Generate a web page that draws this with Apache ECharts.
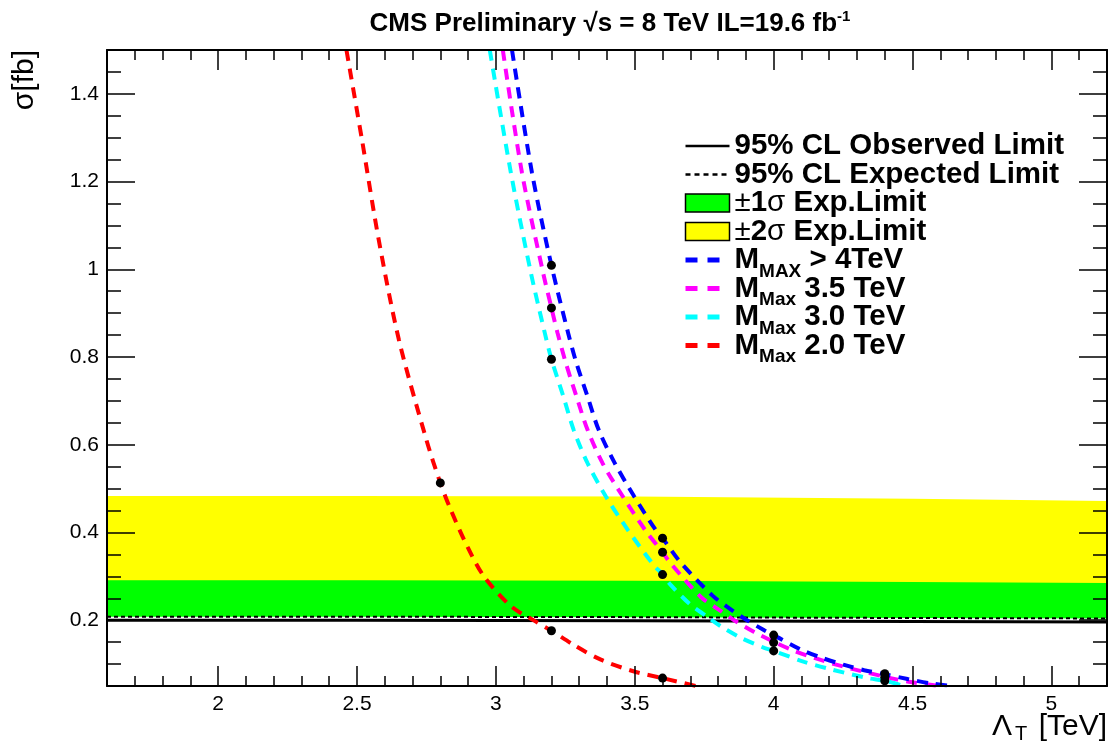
<!DOCTYPE html>
<html><head><meta charset="utf-8">
<script src="https://cdn.jsdelivr.net/npm/echarts@6/dist/echarts.min.js"></script>
<style>html,body{margin:0;padding:0;background:#fff}#c{width:1111px;height:750px}</style>
</head><body><div id="c"></div>
<script>
// ---- tick values ----
const xMajorTicks = [2, 2.5, 3, 3.5, 4, 4.5, 5];
const xMinorTicks = [1.7,1.8,1.9,2.1,2.2,2.3,2.4,2.6,2.7,2.8,2.9,3.1,3.2,3.3,3.4,3.6,3.7,3.8,3.9,4.1,4.2,4.3,4.4,4.6,4.7,4.8,4.9,5.1];
const yMajorTicks = [0.2, 0.4, 0.6, 0.8, 1, 1.2, 1.4];
const yMinorTicks = [0.1,0.15,0.25,0.3,0.35,0.45,0.5,0.55,0.65,0.7,0.75,0.85,0.9,0.95,1.05,1.1,1.15,1.25,1.3,1.35,1.45];

// ---- limit bands ----
const bandX         = [1.6, 2.5, 3.5, 4.5, 5.2];
const observedLimit = [0.200, 0.200, 0.199, 0.197, 0.196];
const expectedLimit = [0.208, 0.208, 0.207, 0.205, 0.204];
const plusOneSigma  = [0.291, 0.291, 0.290, 0.287, 0.285];
const plusTwoSigma  = [0.483, 0.483, 0.482, 0.477, 0.472];

// ---- signal curves [Lambda_T, sigma] ----
const curveMaxGt4 = [[3.058,1.5],[3.13,1.22],[3.2,1.009],[3.26,0.855],[3.29,0.786],[3.33,0.71],[3.37,0.634],[3.428,0.558],[3.498,0.482],[3.576,0.405],[3.6,0.387],[3.666,0.331],[3.78,0.256],[3.834,0.23],[3.894,0.204],[3.966,0.177],[4.0,0.166],[4.098,0.133],[4.17,0.115],[4.254,0.098],[4.326,0.086],[4.4,0.077],[4.482,0.066],[4.566,0.056],[4.645,0.05]];
const curveMax35  = [[3.025,1.5],[3.094,1.22],[3.17,0.992],[3.2,0.912],[3.222,0.855],[3.252,0.786],[3.29,0.71],[3.33,0.634],[3.384,0.558],[3.457,0.482],[3.538,0.405],[3.6,0.355],[3.63,0.329],[3.738,0.253],[3.798,0.226],[3.858,0.2],[3.93,0.173],[4.0,0.151],[4.074,0.13],[4.146,0.114],[4.218,0.1],[4.29,0.088],[4.4,0.071],[4.494,0.059],[4.602,0.05]];
const curveMax30  = [[2.978,1.5],[3.054,1.22],[3.126,0.992],[3.176,0.855],[3.2,0.795],[3.243,0.71],[3.28,0.634],[3.33,0.558],[3.396,0.482],[3.476,0.405],[3.564,0.329],[3.6,0.304],[3.63,0.28],[3.696,0.238],[3.756,0.21],[3.81,0.186],[3.882,0.16],[3.966,0.137],[4.0,0.13],[4.11,0.105],[4.194,0.09],[4.338,0.068],[4.4,0.062],[4.47,0.05]];
const curveMax20  = [[2.462,1.5],[2.518,1.295],[2.578,1.068],[2.651,0.839],[2.75,0.611],[2.8,0.513],[2.838,0.451],[2.898,0.367],[2.958,0.299],[3.054,0.232],[3.138,0.199],[3.2,0.176],[3.282,0.143],[3.378,0.11],[3.498,0.083],[3.6,0.068],[3.72,0.05]];

// ---- computed signal points ----
const pointLambda = [2.8, 3.2, 3.6, 3.2, 3.2, 3.2, 3.6, 3.6, 3.6, 4.0, 4.0, 4.0, 4.4, 4.4, 4.4];
const pointSigma  = [0.513, 0.176, 0.068, 1.009, 0.912, 0.795, 0.387, 0.355, 0.304, 0.166, 0.149, 0.130, 0.078, 0.070, 0.062];

const F = '"Liberation Sans", Arial, Helvetica, sans-serif';
const zip = (xs, ys) => xs.map((x, i) => [x, ys[i]]);

const legendText = {
  'obs': '{b|95% CL Observed Limit}{z|.}',
  'exp': '{b|95% CL Expected Limit}{z|.}',
  'one': '{g|±}{b|1}{g|σ}{b| Exp.Limit}{z|.}',
  'two': '{g|±}{b|2}{g|σ}{b| Exp.Limit}{z|.}',
  'm4':  '{b|M}{s|MAX}{b| > 4TeV}',
  'm35': '{b|M}{s|Max}{b| 3.5 TeV}',
  'm30': '{b|M}{s|Max}{b| 3.0 TeV}',
  'm20': '{b|M}{s|Max}{b| 2.0 TeV}'
};

function xAx(pos, ticks, len, line, labels) {
  return {
    type: 'value', position: pos, min: 1.6, max: 5.2, z: 10,
    axisLine: { show: line, onZero: false, lineStyle: { color: '#000', width: 2 } },
    axisTick: { show: true, inside: true, length: len, customValues: ticks, lineStyle: { color: '#000', width: 1.5 } },
    axisLabel: labels ? { show: true, customValues: ticks, fontSize: 21, fontFamily: F, color: '#000', margin: 8 } : { show: false },
    splitLine: { show: false }
  };
}
function yAx(pos, ticks, len, line, labels) {
  return {
    type: 'value', position: pos, min: 0.05, max: 1.5, z: 10,
    axisLine: { show: line, onZero: false, lineStyle: { color: '#000', width: 2 } },
    axisTick: { show: true, inside: true, length: len, customValues: ticks, lineStyle: { color: '#000', width: 1.5 } },
    axisLabel: labels ? { show: true, customValues: ticks, fontSize: 21, fontFamily: F, color: '#000', margin: 8 } : { show: false },
    splitLine: { show: false }
  };
}
function band(name, ys, color) {
  return { name: name, type: 'line', data: zip(bandX, ys), symbol: 'none', silent: true,
    lineStyle: { width: 0, opacity: 0 }, areaStyle: { color: color, opacity: 1, origin: 'start' } };
}
function curve(name, data, color) {
  return { name: name, type: 'line', data: data, symbol: 'none', smooth: 0.3, clip: true,
    itemStyle: { color: color },
    lineStyle: { color: color, width: 4, type: [11, 8] } };
}
const hidden = { color: 'rgba(0,0,0,0)', opacity: 0, borderWidth: 0 };
const subStyle = { fontFamily: F, fontWeight: 'bold', fontSize: 19, lineHeight: 2, verticalAlign: 'top', padding: [14, 0, 0, 0], color: '#000' };

const chart = echarts.init(document.getElementById('c'), null, { renderer: 'canvas' });
chart.setOption({
  animation: false,
  backgroundColor: '#fff',
  title: {
    text: '{t|CMS Preliminary √s = 8 TeV IL=19.6 fb}{p|-1}',
    left: 610, top: 9, textAlign: 'center', padding: 0,
    textStyle: { rich: {
      t: { fontFamily: F, fontWeight: 'bold', fontSize: 26, lineHeight: 30, color: '#000' },
      p: { fontFamily: F, fontWeight: 'bold', fontSize: 15, lineHeight: 12, verticalAlign: 'top', color: '#000' }
    } }
  },
  grid: { left: 107, right: 4, top: 50, bottom: 64, containLabel: false, outerBoundsMode: 'none' },
  xAxis: [
    xAx('bottom', xMajorTicks, 20, true, true),
    xAx('bottom', xMinorTicks, 10, false, false),
    xAx('top', xMajorTicks, 20, true, false),
    xAx('top', xMinorTicks, 10, false, false)
  ],
  yAxis: [
    yAx('left', yMajorTicks, 28, true, true),
    yAx('left', yMinorTicks, 14, false, false),
    yAx('right', yMajorTicks, 28, true, false),
    yAx('right', yMinorTicks, 14, false, false)
  ],
  legend: {
    orient: 'vertical', left: 683, top: 131, padding: 0, itemGap: -7.5,
    itemWidth: 44, itemHeight: 18, selectedMode: false,
    formatter: n => legendText[n],
    textStyle: { fontFamily: F, fontWeight: 'bold', fontSize: 29.5, lineHeight: 24, color: '#000',
      rich: {
        b: { fontFamily: F, fontWeight: 'bold', fontSize: 29.5, lineHeight: 24, color: '#000' },
        g: { fontFamily: F, fontWeight: 'normal', fontSize: 29.5, lineHeight: 24, color: '#000' },
        s: subStyle,
        z: Object.assign({}, subStyle, { color: 'rgba(0,0,0,0)' })
      } },
    data: [
      { name: 'obs', itemStyle: hidden, lineStyle: { color: '#000', width: 2.5, type: 'solid' } },
      { name: 'exp', itemStyle: hidden, lineStyle: { color: '#000', width: 2.5, type: [5, 4] } },
      { name: 'one', icon: 'rect', itemStyle: { color: '#00ff00', borderColor: '#000', borderWidth: 1.5 } },
      { name: 'two', icon: 'rect', itemStyle: { color: '#ffff00', borderColor: '#000', borderWidth: 1.5 } },
      { name: 'm4',  itemStyle: hidden, lineStyle: { color: '#0000ff', width: 5, type: [12, 10] } },
      { name: 'm35', itemStyle: hidden, lineStyle: { color: '#ff00ff', width: 5, type: [12, 10] } },
      { name: 'm30', itemStyle: hidden, lineStyle: { color: '#00ffff', width: 5, type: [12, 10] } },
      { name: 'm20', itemStyle: hidden, lineStyle: { color: '#ff0000', width: 5, type: [12, 10] } }
    ]
  },
  graphic: [{
    type: 'text', x: 25, y: 50, rotation: Math.PI / 2,
    style: { text: 'σ[fb]', font: '30px "Liberation Sans", Arial, sans-serif', fill: '#000', align: 'right', verticalAlign: 'middle' }
  }, {
    type: 'text', x: 1107, y: 712,
    style: { text: '{L|Λ}{s|T}{a| [TeV]}', align: 'right', verticalAlign: 'top',
      rich: {
        L: { fontFamily: F, fontSize: 30, lineHeight: 30, width: 26, align: 'center', fill: '#000' },
        a: { fontFamily: F, fontSize: 30, lineHeight: 30, fill: '#000' },
        s: { fontFamily: F, fontSize: 20, lineHeight: 2, verticalAlign: 'top', padding: [12, 3, 0, 0], fill: '#000' }
      } }
  }],
  series: [
    band('two', plusTwoSigma, '#ffff00'),
    band('one', plusOneSigma, '#00ff00'),
    band('mask', expectedLimit, '#ffffff'),
    { name: 'obs', type: 'line', data: zip(bandX, observedLimit), symbol: 'none',
      itemStyle: { color: '#000' }, lineStyle: { color: '#000', width: 3 } },
    { name: 'exp', type: 'line', data: zip(bandX, expectedLimit), symbol: 'none',
      itemStyle: { color: '#000' }, lineStyle: { color: '#000', width: 2, type: [4, 3] } },
    curve('m20', curveMax20, '#ff0000'),
    curve('m30', curveMax30, '#00ffff'),
    curve('m35', curveMax35, '#ff00ff'),
    curve('m4', curveMaxGt4, '#0000ff'),
    { name: 'points', type: 'scatter', data: zip(pointLambda, pointSigma), symbol: 'circle',
      symbolSize: 9, itemStyle: { color: '#000', opacity: 1 }, z: 5 }
  ]
});
</script></body></html>
